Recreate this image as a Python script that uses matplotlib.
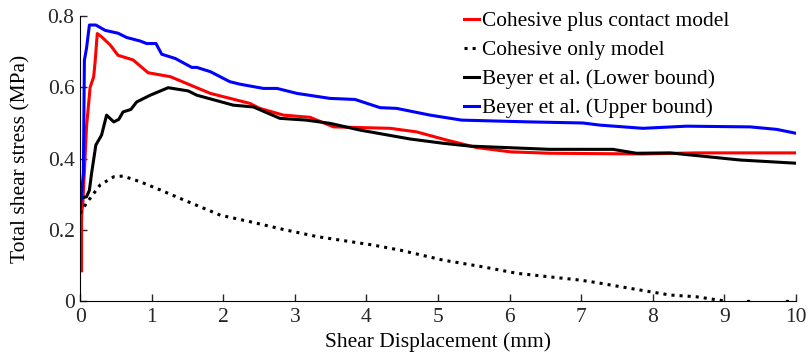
import matplotlib.pyplot as plt
import numpy as np

plt.rcParams['font.family'] = ['Liberation Serif', 'DejaVu Serif']
plt.rcParams['mathtext.fontset'] = 'stix'

# Cohesive plus contact model (red)
red_x = [0.02, 0.02, 0.025, 0.04, 0.09, 0.14, 0.19, 0.21, 0.24, 0.30, 0.42, 0.53,
         0.74, 0.95, 1.26, 1.82, 2.37, 2.51, 2.84, 3.21, 3.54, 4.33, 4.70, 5.12,
         5.54, 6.01, 6.56, 7.86, 8.60, 10.0]
red_y = [0.085, 0.225, 0.25, 0.28, 0.49, 0.60, 0.63, 0.672, 0.751, 0.742, 0.719, 0.69,
         0.677, 0.641, 0.63, 0.583, 0.555, 0.541, 0.522, 0.516, 0.489, 0.485, 0.475, 0.452,
         0.431, 0.419, 0.415, 0.413, 0.416, 0.416]

# Cohesive only model (dotted)
coh_x = [0.0, 0.09, 0.28, 0.47, 0.60, 0.84, 1.12, 1.40, 1.96, 2.37, 2.84, 3.31,
         4.10, 4.47, 5.07, 5.63, 6.10, 6.56, 6.98, 7.21, 7.82, 8.24, 8.61, 8.98]
coh_y = [0.246, 0.275, 0.326, 0.349, 0.351, 0.335, 0.312, 0.288, 0.241, 0.223, 0.201, 0.181,
         0.157, 0.143, 0.115, 0.096, 0.078, 0.068, 0.059, 0.052, 0.031, 0.017, 0.012, 0.001]
coh_tail_x = [9.33, 9.87]
coh_tail_y = [0.0, 0.0]

# Beyer et al. lower bound (black)
low_x = [0.0, 0.09, 0.13, 0.16, 0.22, 0.30, 0.37, 0.47, 0.54, 0.60, 0.71, 0.79,
         0.98, 1.23, 1.51, 1.63, 2.14, 2.42, 2.79, 3.16, 3.49, 3.91, 4.61, 5.07,
         5.45, 6.56, 7.44, 7.77, 8.24, 9.22, 10.0]
low_y = [0.288, 0.293, 0.311, 0.358, 0.438, 0.466, 0.522, 0.503, 0.51, 0.531, 0.538, 0.559,
         0.578, 0.599, 0.59, 0.578, 0.55, 0.545, 0.513, 0.508, 0.499, 0.48, 0.455, 0.443,
         0.435, 0.426, 0.426, 0.415, 0.416, 0.396, 0.387]

# Beyer et al. upper bound (blue)
up_x = [0.0, 0.046, 0.06, 0.09, 0.13, 0.22, 0.35, 0.53, 0.65, 0.84, 0.93, 1.06,
        1.14, 1.33, 1.56, 1.63, 1.82, 2.09, 2.23, 2.56, 2.75, 3.03, 3.49, 3.84,
        4.19, 4.42, 4.89, 5.33, 6.28, 7.02, 7.26, 7.86, 8.47, 9.36, 9.73, 10.0]
up_y = [0.255, 0.36, 0.676, 0.71, 0.775, 0.775, 0.76, 0.752, 0.74, 0.73, 0.723, 0.723,
        0.693, 0.681, 0.656, 0.656, 0.644, 0.616, 0.609, 0.597, 0.597, 0.583, 0.569, 0.566,
        0.543, 0.541, 0.522, 0.508, 0.503, 0.50, 0.494, 0.485, 0.491, 0.489, 0.482, 0.471]

labels = ['Cohesive plus contact model', 'Cohesive only model',
          'Beyer et al. (Lower bound)', 'Beyer et al. (Upper bound)']

fig = plt.figure(figsize=(8.09, 3.58), dpi=100)
ax = fig.add_axes([0.099, 0.159, 0.885, 0.796])

lw = 2.2
ax.plot(red_x, red_y, color='red', lw=lw, label=labels[0])
ax.plot(coh_x, coh_y, color='black', lw=lw, ls=':', label=labels[1])
ax.plot(coh_tail_x, coh_tail_y, color='black', lw=lw, ls='none', marker='s', ms=2)
ax.plot(low_x, low_y, color='black', lw=lw, label=labels[2])
ax.plot(up_x, up_y, color='blue', lw=lw, label=labels[3])

ax.set_xlim(0, 10)
ax.set_ylim(0, 0.8)
ax.set_xticks(np.arange(0, 11, 1))
ax.set_yticks([0, 0.2, 0.4, 0.6, 0.8])
ax.set_yticklabels(['0', '0.2', '0.4', '0.6', '0.8'])
ax.tick_params(direction='in', length=5, labelsize=15.5, colors='#262626', width=1)
ax.tick_params(axis='x', pad=5)
ax.tick_params(axis='y', pad=4)
ax.spines['top'].set_visible(False)
ax.spines['right'].set_visible(False)
ax.set_xlabel('Shear Displacement (mm)', fontsize=15.5, labelpad=4)
ax.set_ylabel('Total shear stress (MPa)', fontsize=15.5, labelpad=12)

ax.legend(loc='upper left', bbox_to_anchor=(0.53, 1.032), frameon=False,
          fontsize=15.4, handlelength=0.7, handletextpad=0.15,
          labelspacing=0.42, borderaxespad=0, borderpad=0.2)

fig.savefig('out.png', dpi=100)
